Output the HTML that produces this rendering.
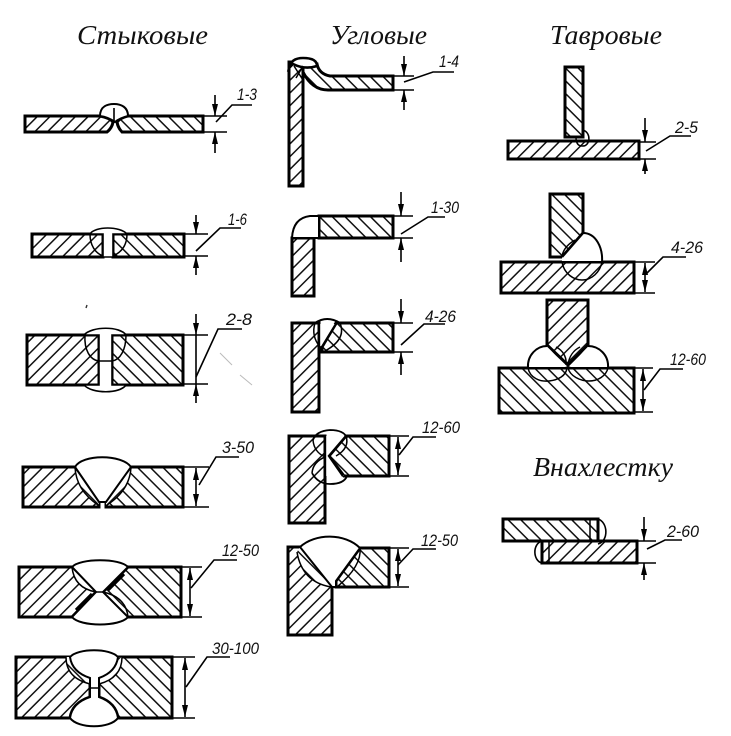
<!DOCTYPE html>
<html lang="ru">
<head>
<meta charset="utf-8">
<title>Сварные соединения</title>
<style>
html,body{margin:0;padding:0;background:#fff;}
svg{display:block;}
.t{font-family:"Liberation Serif",serif;font-style:italic;font-size:27px;fill:#111;}
.n{font-family:"Liberation Sans",sans-serif;font-style:italic;font-size:17px;fill:#111;}
.p{stroke:#000;stroke-width:3;stroke-linejoin:miter;}
.a{fill:url(#a);}
.b{fill:url(#b);}
.w{fill:#fff;stroke:#000;stroke-width:2;}
.th{fill:none;stroke:#000;stroke-width:1.5;}
.tk{fill:none;stroke:#000;stroke-width:3.2;}
.d{fill:none;stroke:#000;stroke-width:1.6;}
</style>
</head>
<body>
<svg width="731" height="736" viewBox="0 0 731 736" xmlns="http://www.w3.org/2000/svg">
<defs>
<pattern id="a" width="9" height="9" patternUnits="userSpaceOnUse" patternTransform="rotate(45)"><rect width="9" height="9" fill="#fff"/><line x1="0" y1="0" x2="0" y2="9" stroke="#111" stroke-width="3"/></pattern>
<pattern id="b" width="9" height="9" patternUnits="userSpaceOnUse" patternTransform="rotate(-45)"><rect width="9" height="9" fill="#fff"/><line x1="0" y1="0" x2="0" y2="9" stroke="#111" stroke-width="3"/></pattern>
<marker id="m" markerUnits="userSpaceOnUse" markerWidth="13" markerHeight="7" refX="12" refY="3" orient="auto-start-reverse"><path d="M0,0 L12,3 L0,6 z" fill="#000"/></marker>
</defs>
<rect width="731" height="736" fill="#fff"/>

<text class="t" x="77" y="44" textLength="131" lengthAdjust="spacingAndGlyphs">Стыковые</text>
<text class="t" x="330" y="44" textLength="97" lengthAdjust="spacingAndGlyphs">Угловые</text>
<text class="t" x="550" y="44" textLength="112" lengthAdjust="spacingAndGlyphs">Тавровые</text>
<text class="t" x="533" y="476" textLength="140" lengthAdjust="spacingAndGlyphs">Внахлестку</text>

<!-- 1-3 -->
<path class="p a" d="M25,116 H100 Q110,118 113,122 Q112,128 107,132 H25 Z"/>
<path class="p b" d="M203,116 H128 Q120,118 117,122 Q118,128 122,132 H203 Z"/>
<path class="w" d="M100,116 C100,106 108,104 114,104 C121,104 128,107 128,116 Q120,118 115,122 Q108,117 100,116 Z"/>
<path class="d" d="M114,108 V122"/>
<path class="d" d="M204,116 H227 M204,132 H227"/>
<line class="d" x1="215" y1="95" x2="215" y2="116" marker-end="url(#m)"/>
<line class="d" x1="215" y1="153" x2="215" y2="132" marker-end="url(#m)"/>
<path class="d" d="M216,122 L232,105 H252"/>
<text class="n" x="237" y="100" textLength="20" lengthAdjust="spacingAndGlyphs">1-3</text>

<!-- 1-6 -->
<path class="p a" d="M32,234 H103 V257 H32 Z"/>
<path class="p b" d="M113,234 H184 V257 H113 Z"/>
<path class="th" d="M90,234 C90,245 95,253 103,256 M127,234 C127,245 122,252 113,256"/>
<path class="w" d="M90,234 C95,226 120,226 127,234 H113 V257 H103 V234 Z" style="stroke-width:1.6"/>
<path class="d" d="M185,234 H208 M185,256 H208"/>
<line class="d" x1="196" y1="215" x2="196" y2="234" marker-end="url(#m)"/>
<line class="d" x1="196" y1="275" x2="196" y2="256" marker-end="url(#m)"/>
<path class="d" d="M196,251 L220,228 H241"/>
<text class="n" x="228" y="225" textLength="19" lengthAdjust="spacingAndGlyphs">1-6</text>

<!-- 2-8 -->
<path class="p a" d="M27,335 H99 V385 H27 Z"/>
<path class="p b" d="M112,335 H183 V385 H112 Z"/>
<path class="th" d="M85,335 C84,350 90,360 99,361 M126,335 C126,350 120,360 112,361"/>
<path class="w" d="M84,335 C92,326 120,326 126,335 H112 V385 H126 C120,394 92,394 84,385 H99 V335 Z" style="stroke-width:1.6"/>
<path class="th" d="M99,361 H112"/>
<path class="d" d="M184,335 H208 M184,384 H208"/>
<line class="d" x1="196" y1="314" x2="196" y2="335" marker-end="url(#m)"/>
<line class="d" x1="196" y1="403" x2="196" y2="384" marker-end="url(#m)"/>
<path class="d" d="M196,335 V384"/>
<path class="d" d="M196,377 L218,329 H242"/>
<text class="n" x="226" y="325" textLength="26" lengthAdjust="spacingAndGlyphs">2-8</text>

<!-- 3-50 -->
<path class="p a" d="M23,467 H75 L99,502 V507 H23 Z"/>
<path class="p b" d="M183,467 H131 L106,502 V507 H183 Z"/>
<path class="b" d="M75,467 L99,502 V505 Q76,490 75,467 Z"/>
<path class="a" d="M131,467 L106,502 V505 Q130,490 131,467 Z"/>
<path class="th" d="M75,467 Q76,490 98,505 M131,467 Q130,490 107,505"/>
<path class="w" d="M75,467 C82,454 122,454 131,467 L106,502 H99 Z"/>
<path class="d" d="M184,467 H209 M184,507 H209"/>
<line class="d" x1="196" y1="468" x2="196" y2="506" marker-start="url(#m)" marker-end="url(#m)"/>
<path class="d" d="M199,485 L216,457 H239"/>
<text class="n" x="222" y="453" textLength="32" lengthAdjust="spacingAndGlyphs">3-50</text>

<!-- 12-50 -->
<path class="p a" d="M19,567 H72 L96,592 L72,617 H19 Z"/>
<path class="p b" d="M181,567 H128 L103,592 L128,617 H181 Z"/>
<path class="b" d="M72,567 L96,592 Q74,588 72,567 Z"/>
<path class="b" d="M128,617 L103,592 Q126,597 128,617 Z"/>
<path class="th" d="M72,567 Q74,588 96,592 M128,617 Q126,597 103,592"/>
<path class="w" d="M72,567 C80,558 120,558 128,567 L103,592 L128,617 C120,627 80,627 72,617 L96,592 Z"/>
<path class="tk" d="M76,610 L92,594 M124,574 L108,590"/>
<path class="th" d="M96,592 H103"/>
<path class="d" d="M182,567 H202 M182,617 H202"/>
<line class="d" x1="190" y1="568" x2="190" y2="616" marker-start="url(#m)" marker-end="url(#m)"/>
<path class="d" d="M191,588 L214,560 H237"/>
<text class="n" x="222" y="556" textLength="37" lengthAdjust="spacingAndGlyphs">12-50</text>

<!-- 30-100 -->
<path class="p a" d="M16,657 H70 Q72,672 90,678 V697 Q72,703 70,718 H16 Z"/>
<path class="p b" d="M172,657 H118 Q116,672 99,678 V697 Q116,703 118,718 H172 Z"/>
<path class="b" d="M70,657 Q72,672 90,678 V684 Q66,678 66,657 Z"/>
<path class="a" d="M118,657 Q116,672 99,678 V684 Q122,678 122,657 Z"/>
<path class="th" d="M90,684 Q66,678 66,657 M99,684 Q122,678 122,657"/>
<path class="w" d="M70,657 C78,648 110,648 118,657 Q116,672 99,678 V697 Q116,703 118,718 C110,729 78,729 70,718 Q72,703 90,697 V678 Q72,672 70,657 Z"/>
<path class="th" d="M90,688 H99"/>
<path class="d" d="M173,657 H195 M173,718 H195"/>
<line class="d" x1="185" y1="658" x2="185" y2="717" marker-start="url(#m)" marker-end="url(#m)"/>
<path class="d" d="M186,687 L207,657 H230"/>
<text class="n" x="212" y="654" textLength="47" lengthAdjust="spacingAndGlyphs">30-100</text>

<!-- 1-4 -->
<path class="p a" d="M289,62 H303 V186 H289 Z"/>
<path class="p b" d="M393,76 H330 Q319,74 317,64 L303,66 V72 Q312,90 328,90 H393 Z"/>
<path class="w" d="M289,68 Q291,58 303,58 Q317,58 317,66 Q305,70 293,64 Z" style="stroke-width:2.6"/>
<path class="th" d="M294,66 L303,80 M303,66 L296,78"/>
<path class="d" d="M394,76 H414 M394,90 H414"/>
<line class="d" x1="404" y1="56" x2="404" y2="76" marker-end="url(#m)"/>
<line class="d" x1="404" y1="110" x2="404" y2="90" marker-end="url(#m)"/>
<path class="d" d="M404,82 L433,72 H454"/>
<text class="n" x="439" y="67" textLength="20" lengthAdjust="spacingAndGlyphs">1-4</text>

<!-- 1-30 -->
<path class="p b" d="M319,216 H393 V238 H319 Z"/>
<path class="p a" d="M292,238 H314 V296 H292 Z"/>
<path class="w" d="M319,216 H310 Q293,218 292,238 H319 Z"/>
<path class="d" d="M394,216 H413 M394,238 H413"/>
<line class="d" x1="401" y1="192" x2="401" y2="216" marker-end="url(#m)"/>
<line class="d" x1="401" y1="262" x2="401" y2="238" marker-end="url(#m)"/>
<path class="d" d="M401,234 L428,217 H445"/>
<text class="n" x="431" y="213" textLength="28" lengthAdjust="spacingAndGlyphs">1-30</text>

<!-- 4-26 -->
<path class="p a" d="M292,323 H319 V412 H292 Z"/>
<path class="p b" d="M336,323 H393 V352 H322 V347 Z"/>
<path class="th" d="M315,323 Q311,336 320,347 M340,323 Q347,340 323,352"/>
<path class="w" d="M319,324 V346 H322 L336,324 Z" style="stroke:none"/>
<path class="tk" d="M319,324 V346 M322,347 L336,324" style="stroke-width:2.4"/>
<path class="th" d="M315,323 Q327,315 340,323" style="stroke-width:2"/>
<path class="d" d="M394,323 H413 M394,352 H413"/>
<line class="d" x1="401" y1="299" x2="401" y2="323" marker-end="url(#m)"/>
<line class="d" x1="401" y1="375" x2="401" y2="352" marker-end="url(#m)"/>
<path class="d" d="M401,345 L424,324 H445"/>
<text class="n" x="425" y="322" textLength="31" lengthAdjust="spacingAndGlyphs">4-26</text>

<!-- 12-60 -->
<path class="p a" d="M289,436 H325 V523 H289 Z"/>
<path class="p b" d="M346,436 H389 V476 H344 L329,456 Z"/>
<path class="th" d="M313,440 Q314,452 325,457 Q313,462 312,473 M346,436 Q350,448 336,456"/>
<path class="w" d="M325,436 H346 L329,456 L344,476 H325 Z" style="stroke:none"/>
<path class="tk" d="M325,436 V476 M346,436 L329,456 L343,476" style="stroke-width:2.4"/>
<path class="th" d="M313,440 Q316,431 330,430 Q344,430 347,438 M312,473 Q318,484 330,484 Q344,484 347,476" style="stroke-width:1.8"/>
<path class="d" d="M390,436 H409 M390,476 H409"/>
<line class="d" x1="398" y1="437" x2="398" y2="475" marker-start="url(#m)" marker-end="url(#m)"/>
<path class="d" d="M399,455 L413,437 H436"/>
<text class="n" x="422" y="433" textLength="38" lengthAdjust="spacingAndGlyphs">12-60</text>

<!-- 12-50 corner -->
<path class="p a" d="M288,547 H300 L332,587 V635 H288 Z"/>
<path class="p b" d="M360,548 H389 V587 H336 V581 Z"/>
<path class="b" d="M300,547 L332,587 Q302,584 297,552 Z"/>
<path class="th" d="M297,552 Q302,582 331,587 M360,548 Q362,566 337,587"/>
<path class="w" d="M300,547 C315,533 345,533 360,548 L336,581 V587 H332 Z"/>
<path class="d" d="M390,548 H409 M390,587 H409"/>
<line class="d" x1="398" y1="549" x2="398" y2="586" marker-start="url(#m)" marker-end="url(#m)"/>
<path class="d" d="M398,565 L413,549 H436"/>
<text class="n" x="421" y="546" textLength="37" lengthAdjust="spacingAndGlyphs">12-50</text>

<!-- 2-5 -->
<path class="p b" d="M565,67 H583 V137 H565 Z"/>
<path class="p a" d="M508,141 H639 V159 H508 Z"/>
<path class="th" d="M583,130 C592,133 590,147 582,146 C577,146 576,141 576,137"/>
<path class="d" d="M640,142 H656 M640,159 H656"/>
<line class="d" x1="645" y1="118" x2="645" y2="142" marker-end="url(#m)"/>
<line class="d" x1="645" y1="174" x2="645" y2="159" marker-end="url(#m)"/>
<path class="d" d="M646,151 L670,136 H691"/>
<text class="n" x="675" y="133" textLength="23" lengthAdjust="spacingAndGlyphs">2-5</text>

<!-- 4-26 T -->
<path class="p b" d="M550,194 H583 V233 L562,257 H550 Z"/>
<path class="p a" d="M501,262 H634 V293 H501 Z"/>
<path class="w" d="M583,233 C596,233 603,248 602,261 H562 V257 Z" style="stroke:none"/>
<path class="tk" d="M583,233 L562,257" style="stroke-width:2.4"/>
<path class="th" d="M583,233 C596,233 603,248 602,262" style="stroke-width:2"/>
<path class="th" d="M562,262 C564,274 574,280 582,280 C592,280 600,272 602,262 M575,240 Q563,247 562,257"/>
<path class="d" d="M635,262 H655 M635,293 H655"/>
<line class="d" x1="645" y1="263" x2="645" y2="292" marker-start="url(#m)" marker-end="url(#m)"/>
<path class="d" d="M647,273 L663,257 H686"/>
<text class="n" x="671" y="253" textLength="32" lengthAdjust="spacingAndGlyphs">4-26</text>

<!-- 12-60 T -->
<path class="p a" d="M547,300 H588 V345 L568,365 L547,345 Z"/>
<path class="p b" d="M499,368 H634 V413 H499 Z"/>
<path class="th" d="M528,368 C530,378 540,382 549,381 C558,380 566,376 567,368 M568,368 C570,376 580,381 589,381 C598,381 606,376 608,368 M556,347 C562,350 567,356 566,365 M580,347 C574,350 569,356 568,365"/>
<path class="w" d="M547,346 C537,346 527,355 528,367 H566 Z M588,346 C599,346 609,355 608,367 H570 Z" style="stroke:none"/>
<path class="th" d="M528,368 C527,355 537,346 547,346 M608,368 C609,355 599,346 588,346" style="stroke-width:2"/>
<path class="tk" d="M547,345 L568,365 L588,345" style="stroke-width:2.4"/>
<path class="d" d="M635,368 H653 M635,412 H653"/>
<line class="d" x1="643" y1="369" x2="643" y2="411" marker-start="url(#m)" marker-end="url(#m)"/>
<path class="d" d="M644,390 L660,369 H683"/>
<text class="n" x="670" y="365" textLength="36" lengthAdjust="spacingAndGlyphs">12-60</text>

<!-- 2-60 -->
<path class="p b" d="M503,519 H598 V541 H503 Z"/>
<path class="p a" d="M542,541 H637 V563 H542 Z"/>
<path class="th" d="M590,520 V542 M549,542 V563"/>
<path class="d" d="M598,519 C608,522 609,541 598,544 M542,541 C532,544 533,561 542,563"/>
<path class="d" d="M638,541 H656 M638,563 H656"/>
<line class="d" x1="644" y1="517" x2="644" y2="541" marker-end="url(#m)"/>
<line class="d" x1="644" y1="580" x2="644" y2="563" marker-end="url(#m)"/>
<path class="d" d="M647,549 L665,540 H682"/>
<text class="n" x="667" y="537" textLength="32" lengthAdjust="spacingAndGlyphs">2-60</text>

<!-- specks -->
<path d="M87,305 L86,308" stroke="#333" stroke-width="1.4" fill="none"/>
<path d="M220,353 L232,365 M240,375 L252,385" stroke="#bbb" stroke-width="1" fill="none"/>
</svg>
</body>
</html>
